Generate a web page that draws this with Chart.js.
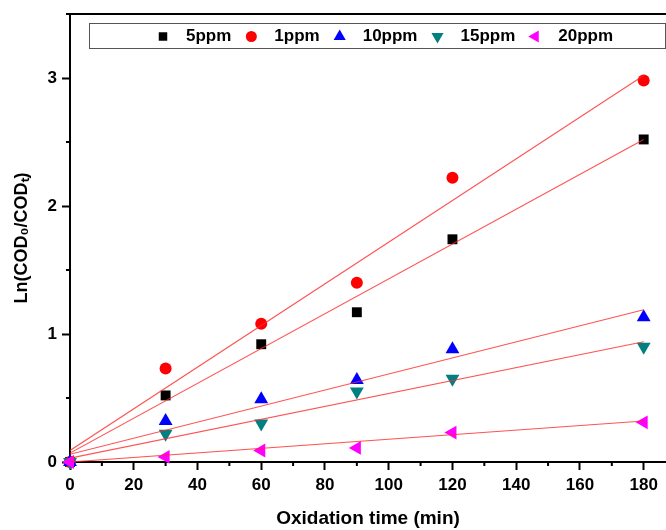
<!DOCTYPE html>
<html>
<head>
<meta charset="utf-8">
<script src="https://cdn.jsdelivr.net/npm/chart.js"></script>
<style>
  body { margin: 0; background: #fff; }
  #wrap { width: 666px; height: 530px; }
</style>
</head>
<body>
<div id="wrap"><canvas id="grafico" width="666" height="530"></canvas></div>
<script>
// valores
const tempos = [0, 30, 60, 90, 120, 180];
const ppm5 = [0, 0.52, 0.92, 1.17, 1.74, 2.52];
const ppm1 = [0, 0.73, 1.08, 1.40, 2.22, 2.98];
const ppm10 = [0, 0.32, 0.49, 0.64, 0.88, 1.13];
const ppm15 = [0, 0.22, 0.30, 0.55, 0.65, 0.90];
const ppm20 = [0, 0.04, 0.09, 0.11, 0.23, 0.31];

// retas de ajuste (inicio e fim)
const temposAjuste = [0, 180];
const ajuste5 = [0.07, 2.52];
const ajuste1 = [0.09, 3.02];
const ajuste10 = [0.06, 1.19];
const ajuste15 = [0.03, 0.94];
const ajuste20 = [0.00, 0.32];

const nomes = ['5ppm', '1ppm', '10ppm', '15ppm', '20ppm'];
const cores = ['#000000', '#ff0000', '#0000ff', '#008080', '#ff00ff'];
const estilos = ['rect', 'circle', 'triangle', 'triangle', 'triangle'];
const rotacoes = [0, 0, 0, 180, 270];
const raios = [7, 6, 8, 8, 8];

const xTicks = [0, 20, 40, 60, 80, 100, 120, 140, 160, 180];
const yTicks = [0, 1, 2, 3];

function pontos(xs, ys) {
    return xs.map((x, i) => ({ x: x, y: ys[i] }));
}

const series = [ppm5, ppm1, ppm10, ppm15, ppm20];
const ajustes = [ajuste5, ajuste1, ajuste10, ajuste15, ajuste20];

const datasets = [];
series.forEach((s, i) => {
    datasets.push({
        label: nomes[i],
        data: pontos(tempos, s),
        pointStyle: estilos[i],
        rotation: rotacoes[i],
        pointRadius: raios[i],
        pointHoverRadius: raios[i],
        backgroundColor: cores[i],
        borderColor: cores[i],
        borderWidth: 0,
        showLine: false,
        clip: false,
        order: 10 - i
    });
});
ajustes.forEach((a, i) => {
    datasets.push({
        label: 'ajuste ' + nomes[i],
        data: pontos(temposAjuste, a),
        showLine: true,
        pointRadius: 0,
        borderColor: 'rgba(255, 40, 40, 0.8)',
        borderWidth: 1.1,
        fill: false,
        order: -1
    });
});

// desenha um marcador parecido com o do Chart.js
function marcador(ctx, estilo, rot, r, x, y, cor) {
    ctx.save();
    ctx.fillStyle = cor;
    ctx.translate(x, y);
    ctx.rotate(rot * Math.PI / 180);
    ctx.beginPath();
    if (estilo === 'rect') {
        const s = Math.SQRT1_2 * r;
        ctx.rect(-s, -s, 2 * s, 2 * s);
    } else if (estilo === 'circle') {
        ctx.arc(0, 0, r, 0, Math.PI * 2);
    } else {
        for (let k = 0; k < 3; k++) {
            const a = k * 2 * Math.PI / 3;
            const px = Math.sin(a) * r, py = -Math.cos(a) * r;
            if (k === 0) ctx.moveTo(px, py); else ctx.lineTo(px, py);
        }
        ctx.closePath();
    }
    ctx.fill();
    ctx.restore();
}

// moldura superior, ticks menores e legenda dentro do grafico
const extras = {
    id: 'extras',
    afterDraw(chart) {
        const ctx = chart.ctx;
        const area = chart.chartArea;
        const sx = chart.scales.x, sy = chart.scales.y;

        ctx.save();
        ctx.strokeStyle = '#000';
        ctx.lineWidth = 2;
        ctx.beginPath();
        ctx.moveTo(area.left, area.top);
        ctx.lineTo(area.right, area.top);
        ctx.stroke();

        // ticks menores
        ctx.beginPath();
        for (let i = 0; i < xTicks.length - 1; i++) {
            const px = sx.getPixelForValue((xTicks[i] + xTicks[i + 1]) / 2);
            ctx.moveTo(px, area.bottom);
            ctx.lineTo(px, area.bottom + 4);
        }
        for (let i = 0; i < yTicks.length; i++) {
            const py = sy.getPixelForValue(yTicks[i] + 0.5);
            ctx.moveTo(area.left, py);
            ctx.lineTo(area.left - 4, py);
        }
        ctx.stroke();

        // legenda
        const bx = area.left + 19, by = area.top + 9;
        const bw = area.right - 1 - bx, bh = 25;
        ctx.lineWidth = 1;
        ctx.strokeStyle = '#555';
        ctx.strokeRect(bx + 0.5, by + 0.5, bw, bh);

        ctx.font = 'bold 17px "Liberation Sans", Arial, sans-serif';
        ctx.textBaseline = 'middle';
        ctx.fillStyle = '#000';
        const cy = by + bh / 2 + 1;
        let x = bx + 74;
        nomes.forEach((nome, i) => {
            const r = estilos[i] === 'rect' ? 6 : (estilos[i] === 'circle' ? 5.5 : 7);
            marcador(ctx, estilos[i], rotacoes[i], r, x, cy, cores[i]);
            ctx.fillStyle = '#000';
            ctx.fillText(nome, x + 23, cy);
            x = x + 23 + ctx.measureText(nome).width + 20;
        });
        ctx.restore();
    }
};

Chart.defaults.font.family = '"Liberation Sans", Arial, sans-serif';
Chart.defaults.font.size = 17;
Chart.defaults.font.weight = 'bold';
Chart.defaults.color = '#000';

const ctx = document.getElementById('grafico').getContext('2d');
new Chart(ctx, {
    type: 'scatter',
    data: { datasets: datasets },
    options: {
        responsive: false,
        animation: false,
        layout: { autoPadding: false, padding: { top: 14, right: 0, left: 0, bottom: 0 } },
        plugins: {
            legend: { display: false },
            tooltip: { enabled: false }
        },
        scales: {
            x: {
                type: 'linear',
                min: 0,
                max: 187,
                afterFit: s => { s.height = 68; s.paddingRight = 0; s.paddingLeft = 0; },
                afterBuildTicks: s => { s.ticks = xTicks.map(v => ({ value: v })); },
                ticks: { padding: 5, maxRotation: 0, font: { size: 17, weight: 'bold' } },
                grid: { drawOnChartArea: false, tickLength: 8, tickWidth: 2, tickColor: '#000' },
                border: { color: '#000', width: 2 },
                title: {
                    display: true,
                    text: 'Oxidation time (min)',
                    font: { size: 19, weight: 'bold' },
                    padding: { top: 0, bottom: 0 }
                }
            },
            y: {
                min: 0,
                max: 3.5,
                afterFit: s => { s.width = 70; s.paddingTop = 0; s.paddingBottom = 0; },
                afterBuildTicks: s => { s.ticks = yTicks.map(v => ({ value: v })); },
                ticks: { padding: 5, font: { size: 17, weight: 'bold' } },
                grid: { drawOnChartArea: false, tickLength: 8, tickWidth: 2, tickColor: '#000' },
                border: { color: '#000', width: 2 },
                title: {
                    display: true,
                    text: 'Ln(COD₀/CODₜ)',
                    font: { size: 18, weight: 'bold' },
                    padding: { top: 11, bottom: 0 }
                }
            }
        }
    },
    plugins: [extras]
});
</script>
</body>
</html>
